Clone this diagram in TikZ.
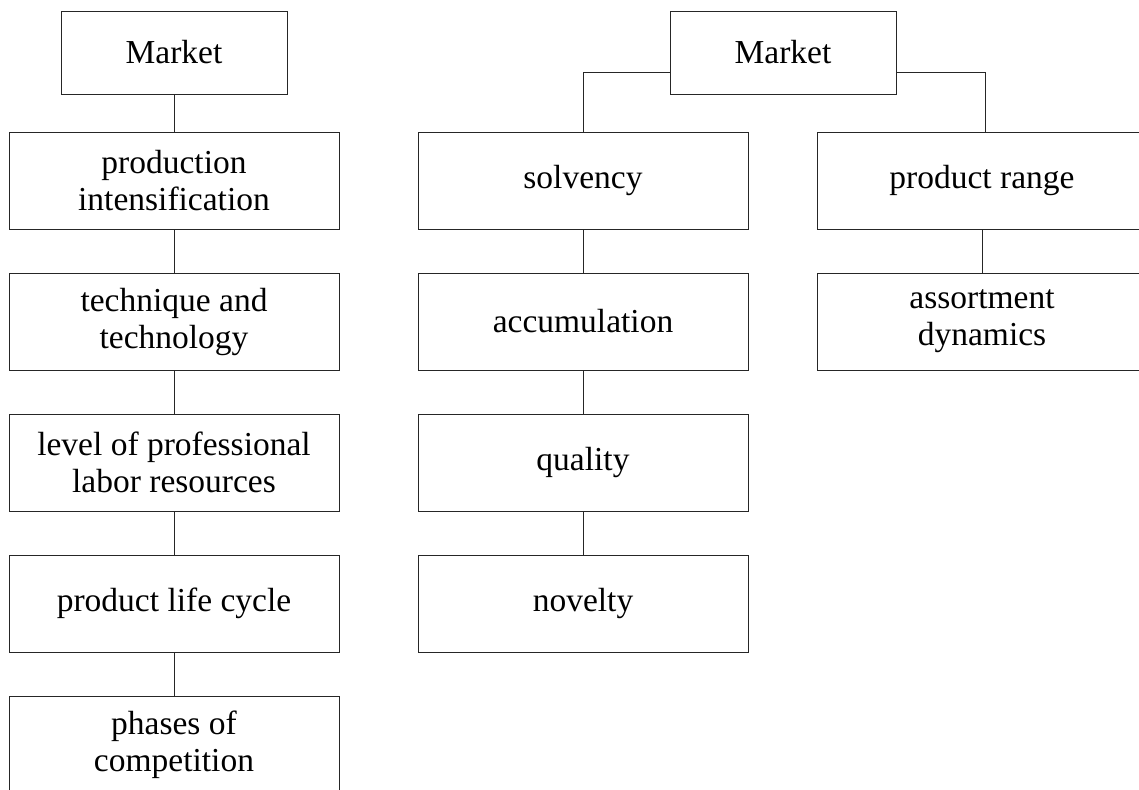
\documentclass[tikz,border=0pt]{standalone}
\usepackage{fontspec}
\setmainfont{Liberation Serif}
\begin{document}
\begin{tikzpicture}[x=1pt,y=-1pt,
  box/.style={draw=black!85,line width=0.9pt,minimum width=330pt,minimum height=97pt,inner sep=0pt,align=center,font=\fontsize{33.5}{37}\selectfont},
  topbox/.style={box,minimum width=226pt,minimum height=83pt},
  link/.style={draw=black!85,line width=0.9pt}]
\useasboundingbox (0,0) rectangle (1139,789);
\begin{scope}
\clip (0,0) rectangle (1139,789);
% left column
\node[topbox] (m1) at (174,52.5) {Market};
\node[box] (l1) at (174,180.5) {production\\intensification};
\node[box] (l2) at (174,321.5) {technique and\\technology};
\node[box] (l3) at (174,462.5) {level of professional\\labor resources};
\node[box] (l4) at (174,603.5) {product life cycle};
\node[box] (l5) at (174,744.5) {phases of\\competition};
% middle column
\node[topbox] (m2) at (783,52.5) {Market};
\node[box] (c1) at (583,180.5) {solvency};
\node[box] (c2) at (583,321.5) {accumulation};
\node[box] (c3) at (583,462.5) {quality};
\node[box] (c4) at (583,603.5) {novelty};
% right column
\node[box] (r1) at (982,180.5) {product range};
\node[box] (r2) at (982,321.5) {assortment\\dynamics};
% connectors
\draw[link] (m1) -- (l1);
\draw[link] (l1) -- (l2);
\draw[link] (l2) -- (l3);
\draw[link] (l3) -- (l4);
\draw[link] (l4) -- (l5);
\draw[link] ([yshift=-19.5pt]m2.west) -| (c1.north);
\draw[link] ([yshift=-19.5pt]m2.east) -| ([xshift=3pt]r1.north);
\draw[link] (c1) -- (c2);
\draw[link] (c2) -- (c3);
\draw[link] (c3) -- (c4);
\draw[link] (r1) -- (r2);
\end{scope}
\end{tikzpicture}
\end{document}
